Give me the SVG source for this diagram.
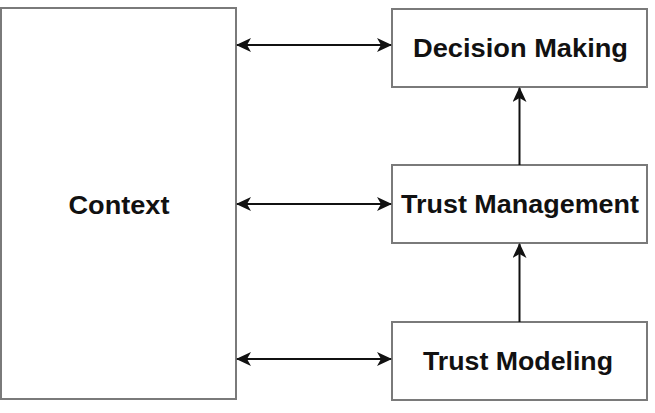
<svg xmlns="http://www.w3.org/2000/svg" width="655" height="413" viewBox="0 0 655 413">
<style>
.box{fill:#fff;stroke:#7a7a7a;stroke-width:2}
.lbl{font-family:"Liberation Sans",Arial,Helvetica,sans-serif;font-weight:bold;font-size:25px;fill:#111;text-anchor:middle}
.conn{stroke:#111;stroke-width:2;fill:none}
</style>
<defs>
<marker id="ah" viewBox="0 0 15 14" refX="14" refY="7" markerWidth="15" markerHeight="14" markerUnits="userSpaceOnUse" orient="auto-start-reverse">
<path d="M0,0 L15,7 L0,14 L4,7 Z" fill="#111"/>
</marker>
</defs>
<rect width="655" height="413" fill="#fff"/>
<g id="context">
<rect class="box" x="1" y="8" width="235" height="391"/>
<text class="lbl" x="119" y="214" textLength="101" lengthAdjust="spacingAndGlyphs">Context</text>
</g>
<g id="decision-making">
<rect class="box" x="392" y="9" width="255" height="78"/>
<text class="lbl" x="520.5" y="57" textLength="215" lengthAdjust="spacingAndGlyphs">Decision Making</text>
</g>
<g id="trust-management">
<rect class="box" x="392" y="165" width="255" height="78"/>
<text class="lbl" x="520" y="213" textLength="238" lengthAdjust="spacingAndGlyphs">Trust Management</text>
</g>
<g id="trust-modeling">
<rect class="box" x="392" y="322" width="255" height="78"/>
<text class="lbl" x="518" y="370" textLength="190" lengthAdjust="spacingAndGlyphs">Trust Modeling</text>
</g>
<g id="connectors">
<line class="conn" x1="237" y1="45" x2="391" y2="45" marker-start="url(#ah)" marker-end="url(#ah)"/>
<line class="conn" x1="237" y1="204" x2="391" y2="204" marker-start="url(#ah)" marker-end="url(#ah)"/>
<line class="conn" x1="237" y1="359" x2="391" y2="359" marker-start="url(#ah)" marker-end="url(#ah)"/>
<line class="conn" x1="519.5" y1="165" x2="519.5" y2="88" marker-end="url(#ah)"/>
<line class="conn" x1="519.5" y1="322" x2="519.5" y2="244" marker-end="url(#ah)"/>
</g>
</svg>
